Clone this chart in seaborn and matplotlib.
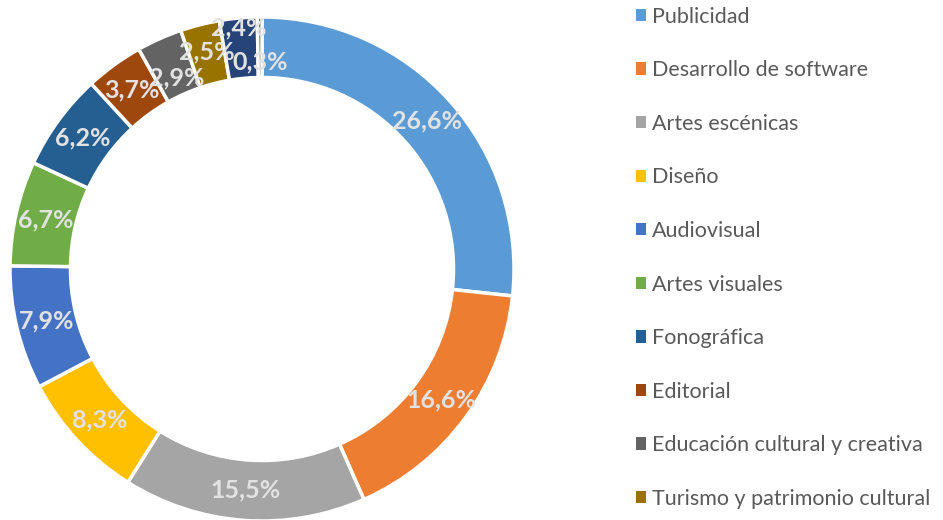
import numpy as np
import seaborn as sns
import matplotlib.pyplot as plt
from matplotlib.patches import Patch

# Data (share of total, %)
sectors = [
    "Publicidad", "Desarrollo de software", "Artes escénicas", "Diseño",
    "Audiovisual", "Artes visuales", "Fonográfica", "Editorial",
    "Educación cultural y creativa", "Turismo y patrimonio cultural",
    "Otros", "Otros (2)"
]
shares = [26.6, 16.6, 15.5, 8.3, 7.9, 6.7, 6.2, 3.7, 2.9, 2.5, 2.4, 0.3]
labels = ["26,6%", "16,6%", "15,5%", "8,3%", "7,9%", "6,7%", "6,2%",
          "3,7%", "2,9%", "2,5%", "2,4%", "0,3%"]
legend_count = 10  # only the first ten entries fit in the picture

colors = sns.color_palette([
    "#5B9BD5", "#ED7D31", "#A5A5A5", "#FFC000", "#4472C4", "#70AD47",
    "#255E91", "#9E480E", "#636363", "#997300", "#264478", "#43682B"
])

sns.set_theme(style="white")
plt.rcParams["font.family"] = ["Lato", "DejaVu Sans"]

fig = plt.figure(figsize=(9.43, 5.2), dpi=100)
# pie centred at about (262, 269) px with radius 252 px
ax = fig.add_axes([10 / 943, -1 / 520, 504 / 943, 504 / 520])

ring = 0.24
wedges, _ = ax.pie(shares, colors=colors, startangle=90, counterclock=False,
                   radius=1, wedgeprops=dict(width=ring, edgecolor="white", linewidth=2.5))
ax.set_xlim(-1, 1)
ax.set_ylim(-1, 1)
ax.set_aspect("equal")
ax.axis("off")

# labels in the middle of the ring; the crowded small ones nudged like Excel does
nudge = {8: -0.05, 9: 0.01, 10: 0.08, 11: -0.06}
total = sum(shares)
cum = np.cumsum([0] + shares[:-1])
for i, (w, lab) in enumerate(zip(shares, labels)):
    frac = (cum[i] + w / 2) / total
    ang = np.deg2rad(90 - 360 * frac)
    r = 1 - ring / 2 + nudge.get(i, 0)
    ax.text(r * np.cos(ang), r * np.sin(ang), lab, ha="center", va="center",
            fontsize=18, fontweight="bold", color="#E2E2E2")

handles = [Patch(facecolor=colors[i], edgecolor="none") for i in range(legend_count)]
leg = fig.legend(handles, sectors[:legend_count], loc="upper left",
                 bbox_to_anchor=(627 / 943, 1.0 + 2 / 520), frameon=False,
                 fontsize=15.5, handlelength=0.5, handleheight=0.5, handletextpad=0.25,
                 labelspacing=1.56, borderaxespad=0)
for t in leg.get_texts():
    t.set_color("#595959")

plt.savefig("out.png", dpi=100)
